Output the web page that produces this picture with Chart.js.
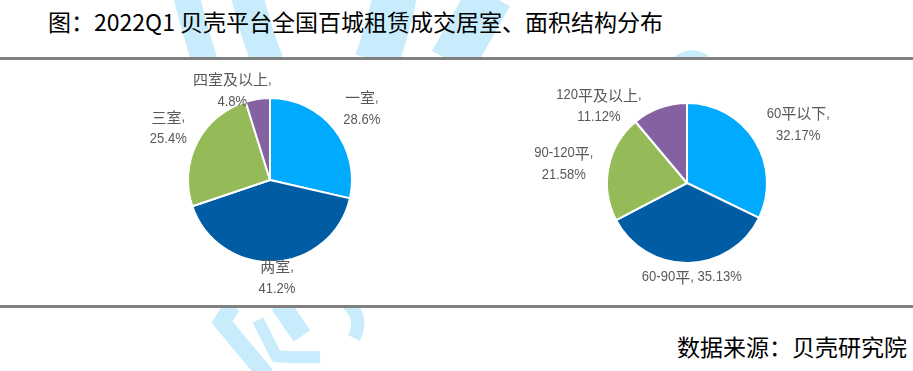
<!DOCTYPE html>
<html>
<head>
<meta charset="utf-8">
<script src="https://cdn.jsdelivr.net/npm/chart.js@4.4.0/dist/chart.umd.min.js"></script>
<style>
  body { margin: 0; width: 913px; height: 371px; background: #fff; position: relative; overflow: hidden; }
  #wm { position: absolute; left: 0; top: 0; }
  .band { position: absolute; left: 0; top: 60px; width: 913px; height: 245px; background: #fff; }
  .title { position: absolute; left: 48px; top: 10px; font: 23px/23px "Noto Sans CJK SC", sans-serif; color: #000; white-space: nowrap; }
  .rule { position: absolute; left: 0; width: 913px; height: 3px; background: #808080; }
  .box { position: absolute; }
  .source { position: absolute; right: 6px; top: 335px; font: 23px/23px "Noto Sans CJK SC", sans-serif; color: #000; white-space: nowrap; }
</style>
</head>
<body>
<svg id="wm" width="913" height="371">
  <g fill="none" stroke="#c8ecfb" stroke-linecap="butt">
    <path d="M186,-5 Q194,28 205,62" stroke-width="26"/>
    <path d="M247,-5 Q255,30 268,62" stroke-width="32"/>
    <path d="M395,-5 Q388,30 376,62" stroke-width="44"/>
    <path d="M490,-5 L452,62" stroke-width="46"/>
    <path d="M676,62 Q690,50 706,60" stroke-width="10"/>
    <path d="M232,306 L222,322 L266,375" stroke-width="17"/>
    <path d="M258,320 L276,356 Q290,358 320,357" stroke-width="12"/>
    <path d="M280,304 L302,336" stroke-width="20"/>
    <path d="M348,304 Q364,318 354,338" stroke-width="13"/>
  </g>
</svg>
<div class="band"></div>
<div class="title">图：2022Q1 贝壳平台全国百城租赁成交居室、面积结构分布</div>
<div class="rule" style="top:57px"></div>
<div class="rule" style="top:305px"></div>
<div class="box" style="left:120px;top:60px;width:300px;height:240px"><canvas id="pie1"></canvas></div>
<div class="box" style="left:507px;top:63px;width:360px;height:240px"><canvas id="pie2"></canvas></div>
<div class="source">数据来源：贝壳研究院</div>

<script>
// 居室结构
var roomLabels = ['一室', '两室', '三室', '四室及以上'];
var roomShares = [28.6, 41.2, 25.4, 4.8];

// 面积结构
var areaLabels = ['60平以下', '60-90平', '90-120平', '120平及以上'];
var areaShares = [32.17, 35.13, 21.58, 11.12];

var sliceColors = ['#00aaff', '#005da4', '#94bb58', '#8462a1'];

// label spots, in units of the pie radius from its centre
var roomSpots = [[1.12, -0.87], [0.085, 1.19], [-1.24, -0.63], [-0.46, -1.09]];
var areaSpots = [[1.39, -0.73], [0.06, 1.175], [-1.54, -0.24], [-1.1, -0.96]];

var CJK_FONT = '15px "Noto Sans CJK SC", sans-serif';
var LATIN_FONT = '15px "Liberation Sans", sans-serif';
var SQUEEZE = 0.87; // latin runs look condensed in the original

// split into runs of CJK / non-CJK so digits can be drawn narrower
function runs(text) {
    var out = [];
    for (var i = 0; i < text.length; i++) {
        var c = text[i];
        var cjk = /[\u3000-\u9fff\uff00-\uffef]/.test(c);
        if (out.length && out[out.length - 1].cjk === cjk) out[out.length - 1].t += c;
        else out.push({ t: c, cjk: cjk });
    }
    return out;
}

function drawMixed(ctx, text, cx, cy) {
    var parts = runs(text);
    var total = 0;
    parts.forEach(function(p) {
        ctx.font = p.cjk ? CJK_FONT : LATIN_FONT;
        p.w = ctx.measureText(p.t).width * (p.cjk ? 1 : SQUEEZE);
        total += p.w;
    });
    var x = cx - total / 2;
    parts.forEach(function(p) {
        ctx.font = p.cjk ? CJK_FONT : LATIN_FONT;
        ctx.save();
        ctx.translate(x, cy);
        if (!p.cjk) ctx.scale(SQUEEZE, 1);
        ctx.fillText(p.t, 0, 0);
        ctx.restore();
        x += p.w;
    });
}

var pieLabels = {
    id: 'pieLabels',
    afterDatasetsDraw: function(chart, args, opts) {
        var ctx = chart.ctx;
        var meta = chart.getDatasetMeta(0);
        var values = chart.data.datasets[0].data;
        ctx.save();
        ctx.fillStyle = '#595959';
        ctx.textAlign = 'left';
        ctx.textBaseline = 'middle';
        meta.data.forEach(function(arc, i) {
            var p = arc.getProps(['x', 'y', 'outerRadius'], true);
            var x = p.x + opts.spots[i][0] * p.outerRadius;
            var y = p.y + opts.spots[i][1] * p.outerRadius;
            var name = chart.data.labels[i];
            var pct = values[i].toFixed(opts.digits) + '%';
            if (opts.oneLine[i]) {
                drawMixed(ctx, name + ', ' + pct, x, y);
            } else {
                drawMixed(ctx, name + ',', x, y - 11);
                drawMixed(ctx, pct, x, y + 11);
            }
        });
        ctx.restore();
    }
};

function makePie(id, labels, values, pad, spots, digits, oneLine) {
    var ctx = document.getElementById(id).getContext('2d');
    return new Chart(ctx, {
        type: 'pie',
        data: {
            labels: labels,
            datasets: [{
                data: values,
                backgroundColor: sliceColors,
                borderColor: '#ffffff',
                borderWidth: 2,
                hoverOffset: 0,
                offset: 0
            }]
        },
        options: {
            responsive: true,
            maintainAspectRatio: false,
            animation: false,
            layout: { padding: pad },
            plugins: {
                legend: { display: false },
                tooltip: { enabled: false },
                pieLabels: { spots: spots, digits: digits, oneLine: oneLine }
            }
        },
        plugins: [pieLabels]
    });
}

makePie('pie1', roomLabels, roomShares, 37, roomSpots, 1, [false, false, false, false]);
makePie('pie2', areaLabels, areaShares, 39, areaSpots, 2, [false, true, false, false]);
</script>
</body>
</html>
